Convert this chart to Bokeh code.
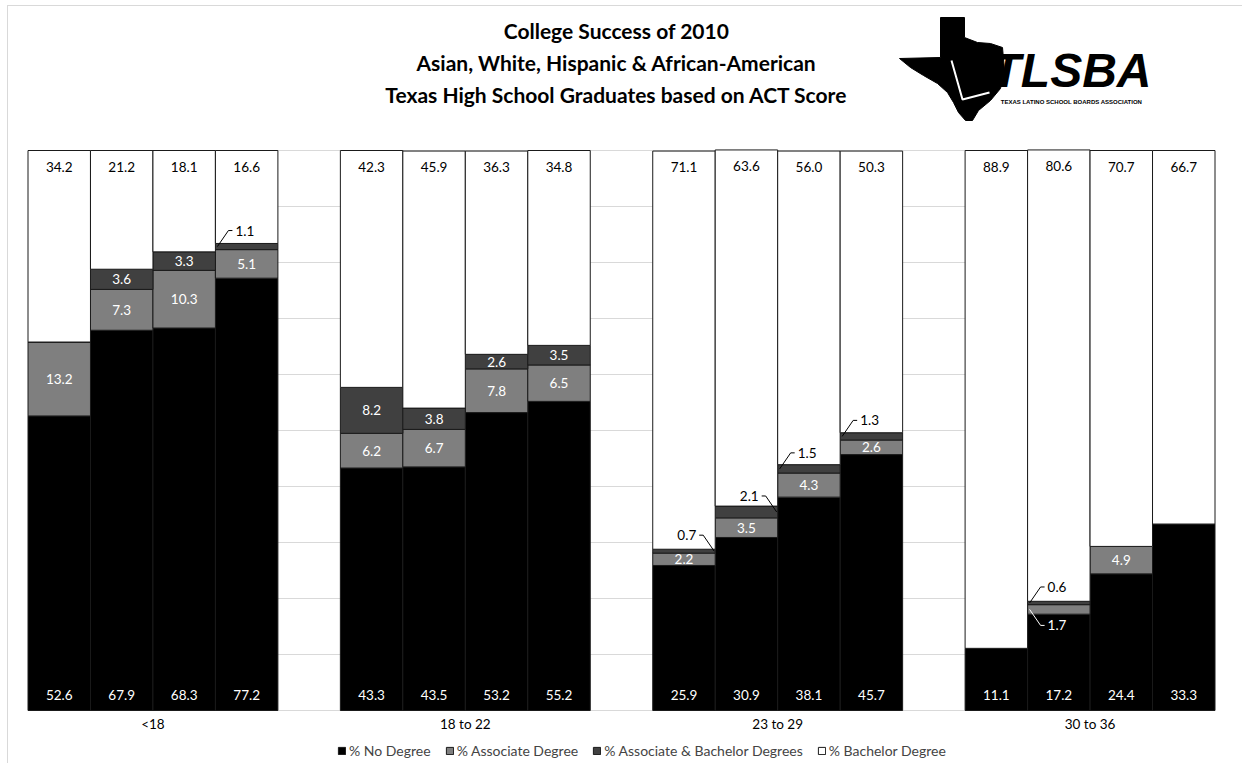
from bokeh.plotting import figure
from bokeh.models import (FactorRange, Range1d, ColumnDataSource, Legend, LegendItem)
from bokeh.core.properties import value
from bokeh.embed import file_html
from bokeh.resources import INLINE

# ---------------- data ----------------
groups = ["<18", "18 to 22", "23 to 29", "30 to 36"]
subgroups = ["Asian", "White", "Hispanic", "African-American"]
series_names = ["% No Degree", "% Associate Degree",
                "% Associate & Bachelor Degrees", "% Bachelor Degree"]

no_degree = [52.6, 67.9, 68.3, 77.2, 43.3, 43.5, 53.2, 55.2,
             25.9, 30.9, 38.1, 45.7, 11.1, 17.2, 24.4, 33.3]
associate = [13.2, 7.3, 10.3, 5.1, 6.2, 6.7, 7.8, 6.5,
             2.2, 3.5, 4.3, 2.6, 0.0, 1.7, 4.9, 0.0]
assoc_bach = [0.0, 3.6, 3.3, 1.1, 8.2, 3.8, 2.6, 3.5,
              0.7, 2.1, 1.5, 1.3, 0.0, 0.6, 0.0, 0.0]
bachelor = [34.2, 21.2, 18.1, 16.6, 42.3, 45.9, 36.3, 34.8,
            71.1, 63.6, 56.0, 50.3, 88.9, 80.6, 70.7, 66.7]

grid_ticks = [0, 10, 20, 30, 40, 50, 60, 70, 80, 90, 100]

title_lines = ["College Success of 2010",
               "Asian, White, Hispanic & African-American",
               "Texas High School Graduates based on ACT Score"]

# small segments labelled with a leader line (bar index, series)
callout_bars = [3, 8, 9, 10, 11, 13, 13]
callout_series = ["ab", "ab", "ab", "ab", "ab", "ab", "assoc"]
callout_side = [1, -1, -1, 1, 1, 1, 1]      # +1: leader from left edge to the right
callout_vert = [1, 1, 1, 1, 1, 1, -1]       # +1: leader goes up
callout_color = ["black", "black", "black", "black", "black", "black", "white"]

# ---------------- layout constants ----------------
W, H = 1242, 763
FT, FB = 150, 710                # top / bottom of the value area (canvas px)
BAR_LEFT, BAR_RIGHT = 27.5, 1214.5
FONT = "Lato"
COLORS = ["#000000", "#7f7f7f", "#404040", "#ffffff"]
GRID = "#d9d9d9"

factors = [(g, s) for g in groups for s in subgroups]
n_units = len(factors) + (len(groups) - 1)
unit_px = (BAR_RIGHT - BAR_LEFT) / n_units
pad = BAR_LEFT / unit_px
x_range = FactorRange(*factors, factor_padding=0, group_padding=1,
                      range_padding=pad, range_padding_units="absolute")
XPX = 1.0 / unit_px                  # factor units per pixel
YPX = 100.0 / (FB - FT)              # data units per pixel
y_range = Range1d(-(H - FB) * YPX, FB * YPX)


def cx_(x):   # canvas pixel -> synthetic x (decorations only)
    return x * XPX - pad


def cy_(y):   # canvas pixel -> data y (decorations only)
    return (FB - y) * YPX


p = figure(width=W, height=H, x_range=x_range, y_range=y_range,
           output_backend="svg", toolbar_location=None,
           x_axis_location=None, y_axis_location=None,
           min_border_left=0, min_border_right=0, min_border_top=0, min_border_bottom=0)
p.outline_line_color = None
p.background_fill_alpha = 0
p.border_fill_alpha = 0
p.xgrid.grid_line_color = None
p.ygrid.grid_line_color = None
p.styles = {
    "background-color": "white",
    "background-image": "linear-gradient(#d9d9d9, #d9d9d9), linear-gradient(#d9d9d9, #d9d9d9)",
    "background-size": "1px %dpx, %dpx 1px" % (H, W),
    "background-position": "7px 5px, 7px 5px",
    "background-repeat": "no-repeat",
}

# ---------------- gridlines (only across the bar area) ----------------
first, last = factors[0], factors[-1]
p.segment(x0=[(first[0], first[1], -0.5)] * len(grid_ticks), y0=grid_ticks,
          x1=[(last[0], last[1], 0.5)] * len(grid_ticks), y1=grid_ticks,
          line_color=GRID, line_width=1)

# ---------------- bars ----------------
src = ColumnDataSource(dict(x=factors, no=no_degree, assoc=associate,
                            ab=assoc_bach, bach=bachelor))
bars = p.vbar_stack(["no", "assoc", "ab", "bach"], x="x", width=1.0, source=src,
                    fill_color=COLORS, line_color="#1a1a1a", line_width=1)

# ---------------- category labels ----------------
p.text(x=groups, y=[cy_(723)] * len(groups), text=groups,
       text_align="center", text_baseline="middle", text_font=value(FONT),
       text_font_size="13.5px", text_color="black")

# ---------------- data labels ----------------
vals = {"no": no_degree, "assoc": associate, "ab": assoc_bach, "bach": bachelor}
order = ["no", "assoc", "ab", "bach"]
callout_set = set(zip(callout_bars, callout_series))

lx, ly, lt, lc = [], [], [], []
for i, f in enumerate(factors):
    base = 0.0
    for key in order:
        v = vals[key][i]
        if key == "no":
            lx.append(f); ly.append(16 * YPX); lt.append(f"{v:.1f}"); lc.append("white")
        elif key == "bach":
            lx.append(f); ly.append(base + v - 16 * YPX); lt.append(f"{v:.1f}"); lc.append("black")
        elif v > 0 and (i, key) not in callout_set:
            lx.append(f); ly.append(base + v / 2); lt.append(f"{v:.1f}"); lc.append("white")
        base += v

p.text(x="x", y="y", text="t", text_color="c",
       source=ColumnDataSource(dict(x=lx, y=ly, t=lt, c=lc)),
       text_align="center", text_baseline="middle",
       text_font=value(FONT), text_font_size="13.5px")

seg = dict(x0=[], y0=[], x1=[], y1=[], c=[])
lab = {1: dict(x=[], y=[], t=[], c=[]), -1: dict(x=[], y=[], t=[], c=[])}
for b, key, sd, vt, col in zip(callout_bars, callout_series, callout_side,
                               callout_vert, callout_color):
    g, s = factors[b]
    base = 0.0
    for k in order:
        if k == key:
            break
        base += vals[k][b]
    v = vals[key][b]
    ymid = base + v / 2
    x_start = -0.5 + 2 * XPX if sd > 0 else 0.5 - 1 * XPX
    x_knee = x_start + sd * 11 * XPX
    y_knee = ymid + vt * 16 * YPX
    x_end = x_knee + sd * 4 * XPX
    seg["x0"] += [(g, s, x_start), (g, s, x_knee)]
    seg["y0"] += [ymid, y_knee]
    seg["x1"] += [(g, s, x_knee), (g, s, x_end)]
    seg["y1"] += [y_knee, y_knee]
    seg["c"] += [col, col]
    L = lab[sd]
    L["x"].append((g, s, x_end + sd * 3 * XPX))
    L["y"].append(y_knee)
    L["t"].append(f"{v:.1f}")
    L["c"].append(col)

p.segment(x0="x0", y0="y0", x1="x1", y1="y1", line_color="c", line_width=1,
          source=ColumnDataSource(seg))
for sd, align in [(1, "left"), (-1, "right")]:
    p.text(x="x", y="y", text="t", text_color="c", source=ColumnDataSource(lab[sd]),
           text_align=align, text_baseline="middle",
           text_font=value(FONT), text_font_size="13.5px")

# ---------------- legend ----------------
legend = Legend(items=[LegendItem(label=n, renderers=[r]) for n, r in zip(series_names, bars)],
                orientation="horizontal", location=(337, 4),
                glyph_width=9, glyph_height=9, label_standoff=3, spacing=14,
                padding=0, margin=0, border_line_color=None, background_fill_alpha=0,
                label_text_font=FONT, label_text_font_size="14px", label_height=15)
p.add_layout(legend, "center")

# ---------------- title ----------------
p.text(x=[cx_(616)] * 3, y=[cy_(30), cy_(62), cy_(94)], text=title_lines,
       text_align="center", text_baseline="middle", text_font=value(FONT),
       text_font_style="bold", text_font_size="21px", text_color="black")

# ---------------- logo ----------------
texas_x = [940, 964, 964, 977, 990, 1002, 1004, 1000, 990, 978, 972, 965, 958,
           953, 947, 937, 923, 910, 899, 940]
texas_y = [17, 17, 37, 42, 43, 47, 70, 88, 100, 110, 120, 120, 112,
           102, 92, 83, 75, 67, 58, 57]
p.patch([cx_(a) for a in texas_x], [cy_(b) for b in texas_y],
        fill_color="black", line_color="black")
quill_x = [951, 962, 989]
quill_y = [60, 99, 92]
p.line([cx_(a) for a in quill_x], [cy_(b) for b in quill_y],
       line_color="white", line_width=2)
p.text(x=[cx_(1071)], y=[cy_(70)], text=["TLSBA"],
       text_align="center", text_baseline="middle",
       text_font=value("Liberation Sans"), text_font_style="bold italic",
       text_font_size="48px", text_color="black")
p.text(x=[cx_(1071)], y=[cy_(101)], text=["TEXAS LATINO SCHOOL BOARDS ASSOCIATION"],
       text_align="center", text_baseline="middle",
       text_font=value("Liberation Sans"), text_font_style="bold",
       text_font_size="6px", text_color="black")

open("out.html", "w").write(file_html(p, INLINE))
